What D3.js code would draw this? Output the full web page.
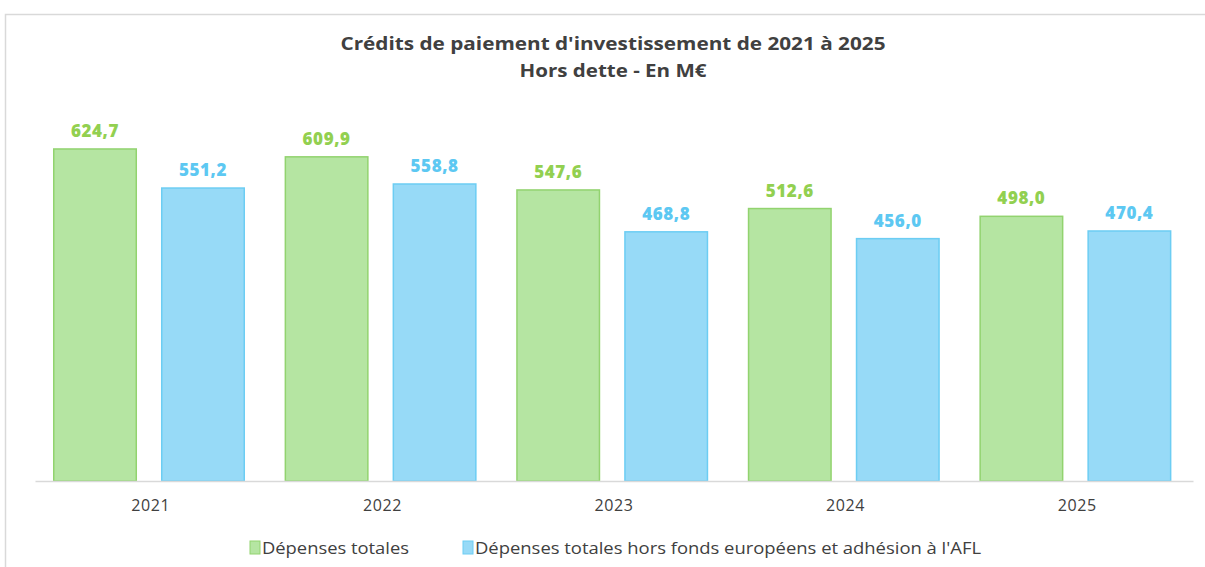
<!DOCTYPE html>
<html>
<head>
<meta charset="utf-8">
<script src="https://cdn.jsdelivr.net/npm/d3@7"></script>
<style>
body{margin:0;background:#fff;}
svg{display:block;font-family:'Open Sans','Noto Sans',sans-serif;}
</style>
</head>
<body>
<div class="canvas"></div>
<script>
// data
const years = ['2021','2022','2023','2024','2025'];
const totales = [624.7, 609.9, 547.6, 512.6, 498.0];
const horsFonds = [551.2, 558.8, 468.8, 456.0, 470.4];
const seriesNames = ['Dépenses totales', "Dépenses totales hors fonds européens et adhésion à l'AFL"];

const W = 1205, H = 567;
const svg = d3.select('.canvas')
  .append('svg')
    .attr('width', W)
    .attr('height', H);

// outer frame
svg.append('rect')
  .attr('x', 5.5).attr('y', 14.5)
  .attr('width', 1240).attr('height', 620)
  .attr('fill', '#fff')
  .attr('stroke', '#d9d9d9')
  .attr('stroke-width', 1.5);

// title
const title = svg.append('text')
  .attr('text-anchor', 'middle')
  .attr('fill', '#404040')
  .style('font-weight', 'bold')
  .style('font-size', '18px');
title.append('tspan').attr('x', 613).attr('y', 50)
  .attr('textLength', 545).attr('lengthAdjust', 'spacingAndGlyphs')
  .text("Crédits de paiement d'investissement de 2021 à 2025");
title.append('tspan').attr('x', 613).attr('y', 77)
  .attr('textLength', 187).attr('lengthAdjust', 'spacingAndGlyphs')
  .text('Hors dette - En M€');

const margin = {left: 35, top: 109};
const graph = svg.append('g')
  .attr('transform', `translate(${margin.left},${margin.top})`);

const axisY = 481 - margin.top;

// scales
const y = d3.scaleLinear()
  .domain([0, 700])
  .range([axisY, axisY - 700 * 0.5315]);

const x0 = d3.scaleBand()
  .domain(years)
  .range([0, 1158]);

const x1 = d3.scaleBand()
  .domain([0, 1])
  .range([18, 210])
  .paddingInner(0.222);

const fills = ['#b5e5a2', '#97daf7'];
const strokes = ['#92d36f', '#6ccdf3'];
const labelCols = ['#92d050', '#5dc8f2'];

const data = years.map((yr, i) => ({year: yr, vals: [totales[i], horsFonds[i]]}));

const groups = graph.selectAll('g.year')
  .data(data)
  .enter()
  .append('g')
    .attr('class', 'year')
    .attr('transform', d => `translate(${x0(d.year)},0)`);

groups.selectAll('rect')
  .data(d => d.vals.map((v, k) => ({k, v})))
  .enter()
  .append('rect')
    .attr('x', d => x1(d.k) + 0.75)
    .attr('y', d => y(d.v))
    .attr('width', x1.bandwidth() - 1.5)
    .attr('height', d => axisY - y(d.v))
    .attr('fill', d => fills[d.k])
    .attr('stroke', d => strokes[d.k])
    .attr('stroke-width', 1.5);

groups.selectAll('text.val')
  .data(d => d.vals.map((v, k) => ({k, v})))
  .enter()
  .append('text')
    .attr('class', 'val')
    .attr('x', d => x1(d.k) + x1.bandwidth() / 2)
    .attr('y', d => y(d.v) - 12)
    .attr('text-anchor', 'middle')
    .attr('fill', d => labelCols[d.k])
    .style('font-weight', '800')
    .style('font-size', '17px')
    .style('letter-spacing', '0.6px')
    .text(d => d3.format('.1f')(d.v).replace('.', ','));

// x axis
const xAxis = d3.axisBottom(x0).tickSize(0).tickPadding(19);
const xAxisGroup = graph.append('g')
  .attr('transform', `translate(0,${axisY})`)
  .call(xAxis);
xAxisGroup.select('.domain')
  .attr('stroke', '#d9d9d9')
  .attr('stroke-width', 1.5);
xAxisGroup.selectAll('text')
  .attr('fill', '#404040')
  .style('font-family', "'Open Sans','Noto Sans',sans-serif")
  .style('font-size', '16px')
  .style('letter-spacing', '0.6px');

// legend
const legend = svg.append('g').attr('transform', 'translate(250,548)');
const legX = [0, 213];
const legLen = [147, 506];
seriesNames.forEach((name, k) => {
  legend.append('rect')
    .attr('x', legX[k]).attr('y', -7)
    .attr('width', 10).attr('height', 13)
    .attr('fill', fills[k])
    .attr('stroke', strokes[k]);
  legend.append('text')
    .attr('x', legX[k] + 12).attr('y', 6)
    .attr('fill', '#404040')
    .style('font-size', '16px')
    .attr('textLength', legLen[k]).attr('lengthAdjust', 'spacingAndGlyphs')
    .text(name);
});
</script>
</body>
</html>
